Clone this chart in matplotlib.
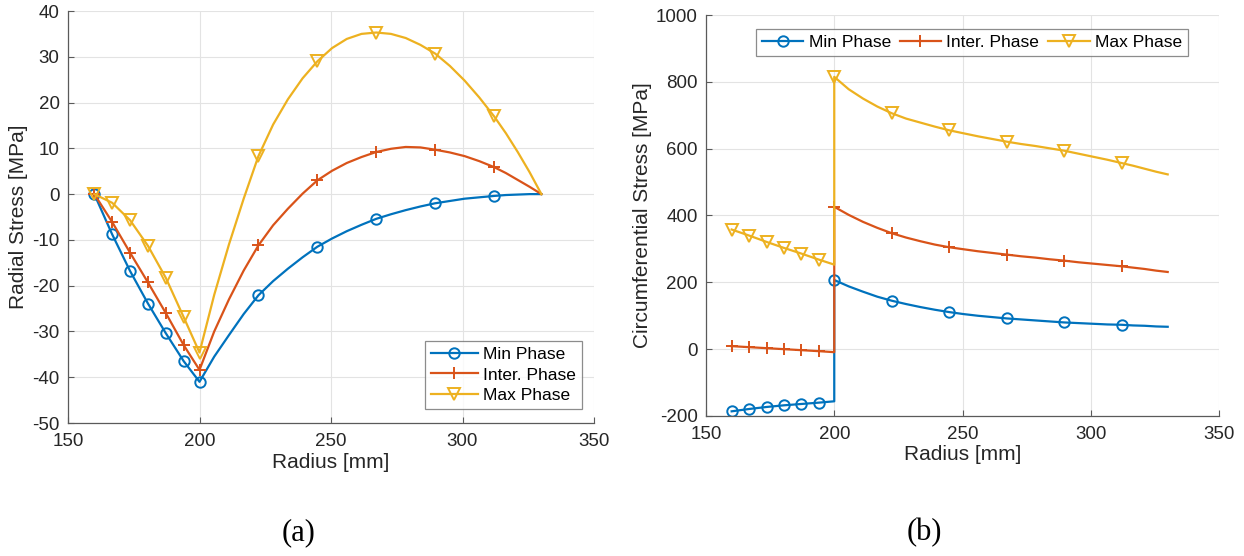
import matplotlib
matplotlib.use("Agg")
import matplotlib.pyplot as plt

# ----------------------------------
# 1. Data
# ----------------------------------
r_inner = [160, 166.8, 173.6, 180.4, 187.2, 194, 200]
r_outer = [200, 205.6, 211.2, 216.8, 222.4, 228, 233.6, 239.2, 244.8, 250.4, 256, 261.6, 267.2,
           272.8, 278.4, 284, 289.6, 295.2, 300.8, 306.4, 312, 316.5, 321, 325.5, 330]

# (a) radial stress [MPa]
min_rad_in = [0, -8.8, -16.8, -23.9, -30.4, -36.5, -41.0]
min_rad_out = [-41.0, -35.5, -30.8, -26.2, -22.1, -19.0, -16.3, -13.8, -11.5, -9.7, -8.1, -6.7, -5.4,
               -4.4, -3.5, -2.7, -2.0, -1.5, -1.0, -0.7, -0.4, -0.2, -0.1, 0, 0]
int_rad_in = [0, -6.1, -12.8, -19.3, -26.0, -33.0, -38.4]
int_rad_out = [-38.4, -30.0, -23.0, -16.7, -11.2, -6.8, -3.2, 0.1, 3.0, 5.1, 6.8, 8.1, 9.2,
               9.9, 10.3, 10.2, 9.7, 9.1, 8.3, 7.2, 5.9, 4.6, 3.1, 1.6, 0]
max_rad_in = [0, -1.9, -5.7, -11.3, -18.3, -26.9, -34.6]
max_rad_out = [-34.6, -22.0, -11.0, -1.0, 8.3, 15.2, 20.7, 25.3, 29.0, 31.9, 33.9, 35.0, 35.3,
               35.0, 34.1, 32.6, 30.7, 28.0, 24.8, 21.1, 17.0, 13.3, 9.2, 4.8, 0]

# (b) circumferential stress [MPa]
min_circ_in = [-186, -179, -173, -168, -164, -160, -156]
min_circ_out = [207, 188, 172, 157, 145, 135, 126, 118, 111, 105, 100, 96, 92,
                89, 86, 83, 80, 78, 76, 74, 73, 71, 70, 68, 67]
int_circ_in = [9, 6, 3, 0, -3, -6, -9]
int_circ_out = [426, 402, 381, 363, 347, 334, 323, 313, 305, 299, 293, 288, 283,
                278, 274, 269, 265, 260, 256, 252, 248, 244, 240, 235, 231]
max_circ_in = [358, 340, 321, 303, 286, 268, 253]
max_circ_out = [815, 778, 750, 726, 706, 690, 678, 666, 655, 646, 637, 629, 621,
                614, 608, 601, 594, 585, 576, 567, 557, 549, 540, 531, 523]

labels = ["Min Phase", "Inter. Phase", "Max Phase"]
colors = ["#0072BD", "#D95319", "#EDB120"]
markers = ["o", "+", "v"]
msizes = [7.5, 8.5, 9]

x_ticks = [150, 200, 250, 300, 350]
rad_ticks = [-50, -40, -30, -20, -10, 0, 10, 20, 30, 40]
circ_ticks = [-200, 0, 200, 400, 600, 800, 1000]

# markers on inner points 0..5 and every 4th outer point up to 312
n_in = len(r_inner)
mark_idx = list(range(n_in - 1)) + [n_in + j for j in range(0, 21, 4)]

plt.rcParams['font.family'] = ['Liberation Sans', 'DejaVu Sans']
plt.rcParams['axes.unicode_minus'] = False
text_col = "#262626"


def style_axes(ax, yticks, ylabel):
    ax.set_xlim(150, 350)
    ax.set_ylim(yticks[0], yticks[-1])
    ax.set_xticks(x_ticks)
    ax.set_yticks(yticks)
    ax.grid(True, color="#e3e3e3", linewidth=0.8)
    ax.set_axisbelow(True)
    for s in ["top", "right"]:
        ax.spines[s].set_visible(False)
    for s in ["left", "bottom"]:
        ax.spines[s].set_color("#5a5a5a")
        ax.spines[s].set_linewidth(0.9)
    ax.tick_params(direction="in", length=4, width=0.8, color="#5a5a5a",
                   labelsize=13.5, labelcolor=text_col)
    ax.tick_params(axis="x", pad=7)
    ax.tick_params(axis="y", pad=6)
    ax.set_xlabel("Radius [mm]", fontsize=15, color=text_col, labelpad=2)
    ax.set_ylabel(ylabel, fontsize=15, color=text_col, labelpad=3)


def draw(ax, series_in, series_out):
    for i in range(3):
        ax.plot(r_inner + r_outer, series_in[i] + series_out[i],
                color=colors[i], linewidth=1.6, marker=markers[i],
                markevery=mark_idx, markersize=msizes[i],
                markerfacecolor="none", markeredgewidth=1.4,
                label=labels[i])


fig = plt.figure(figsize=(12.44, 5.56), dpi=100)

# ----------------------------------
# 2. (a) Radial stress
# ----------------------------------
ax1 = fig.add_axes([68 / 1244, 133 / 556, 526 / 1244, 412 / 556])
draw(ax1, [min_rad_in, int_rad_in, max_rad_in], [min_rad_out, int_rad_out, max_rad_out])
style_axes(ax1, rad_ticks, "Radial Stress [MPa]")
leg1 = ax1.legend(loc="lower right", bbox_to_anchor=(0.977, 0.034), borderaxespad=0,
                  fontsize=12.5, fancybox=False, handlelength=2.7, handletextpad=0.3,
                  labelspacing=0.3, borderpad=0.35)
leg1.get_frame().set_edgecolor("#707070")
leg1.get_frame().set_linewidth(0.9)

# ----------------------------------
# 3. (b) Circumferential stress
# ----------------------------------
ax2 = fig.add_axes([706 / 1244, 140 / 556, 513 / 1244, 401 / 556])
draw(ax2, [min_circ_in, int_circ_in, max_circ_in], [min_circ_out, int_circ_out, max_circ_out])
style_axes(ax2, circ_ticks, "Circumferential Stress [MPa]")
leg2 = ax2.legend(loc="upper right", bbox_to_anchor=(0.9396, 0.965), borderaxespad=0,
                  ncol=3, fontsize=12.5, fancybox=False, handlelength=2.4,
                  handletextpad=0.3, columnspacing=0.5, borderpad=0.35)
leg2.get_frame().set_edgecolor("#707070")
leg2.get_frame().set_linewidth(0.9)

# ----------------------------------
# 4. Captions
# ----------------------------------
fig.text(299 / 1244, 1 - 533 / 556, "(a)", family="Liberation Serif", fontsize=22,
         ha="center", va="center")
fig.text(924 / 1244, 1 - 533 / 556, "(b)", family="Liberation Serif", fontsize=22,
         ha="center", va="center")

fig.savefig("out.png", dpi=100)
